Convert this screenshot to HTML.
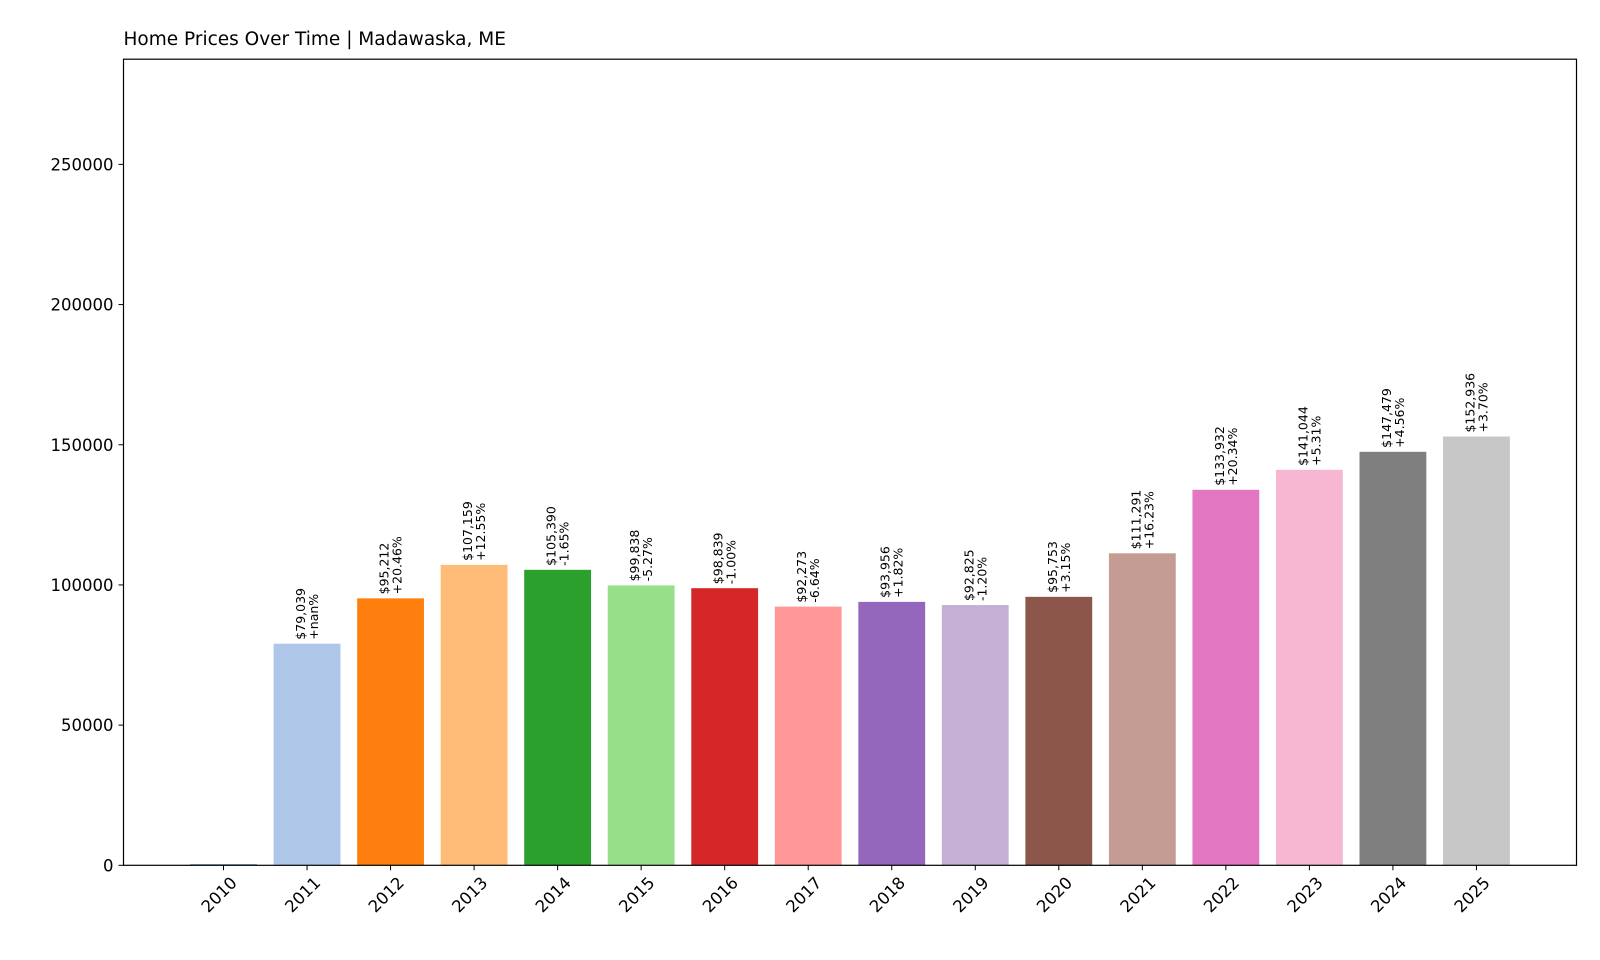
<!DOCTYPE html>
<html><head><meta charset="utf-8"><style>
body{margin:0;background:#fff;}
svg{display:block;font-family:"DejaVu Sans","Liberation Sans",sans-serif;}
</style></head><body>
<svg id="chart" width="1600" height="960"></svg>
<script>
const years=["2010","2011","2012","2013","2014","2015","2016","2017","2018","2019","2020","2021","2022","2023","2024","2025"];
const values=[0,79039,95212,107159,105390,99838,98839,92273,93956,92825,95753,111291,133932,141044,147479,152936];
const pctLabels=["","+nan%","+20.46%","+12.55%","-1.65%","-5.27%","-1.00%","-6.64%","+1.82%","-1.20%","+3.15%","+16.23%","+20.34%","+5.31%","+4.56%","+3.70%"];
const yTicks=[0,50000,100000,150000,200000,250000];
const colors=["#1f77b4","#aec7e8","#ff7f0e","#ffbb78","#2ca02c","#98df8a","#d62728","#ff9896","#9467bd","#c5b0d5","#8c564b","#c49c94","#e377c2","#f7b6d2","#7f7f7f","#c7c7c7"];

const NS="http://www.w3.org/2000/svg";
const svg=document.getElementById('chart');
const L=123.5,R=1576.5,T=59.2,B=865.3;
const yMax=Math.max(...values)*1.88;
const x0=223.5,step=83.53;
function xs(i){return x0+i*step;}
function ys(v){return B-v/yMax*(B-T);}
function mk(tag,attrs,parent){const e=document.createElementNS(NS,tag);for(const k in attrs)e.setAttribute(k,attrs[k]);(parent||svg).appendChild(e);return e;}

const title=mk('text',{x:L,y:45,'font-size':'18.5','fill':'#000'});


title.textContent="Home Prices Over Time | Madawaska, ME";

const bw=step*0.8;
values.forEach((v,i)=>{
  const cx=xs(i);
  const top=ys(v);
  const r=mk('rect',{x:cx-bw/2,y:Math.min(top,B-1),width:bw,height:Math.max(B-top,1),fill:colors[i]});
  
  
  if(v>0){
    const g=mk('text',{transform:`translate(${cx},${top-4}) rotate(-90)`,'font-size':'12.5','fill':'#000'});
    
    
    const t1=mk('tspan',{x:0,y:-2},g);
    t1.textContent='$'+v.toLocaleString('en-US');
    const t2=mk('tspan',{x:0,y:11},g);
    t2.textContent=pctLabels[i];
  }
  const tk=mk('line',{x1:cx,x2:cx,y1:B,y2:B+5,stroke:'#000','stroke-width':1});
  
  
  const tl=mk('text',{transform:`translate(${cx+4},${B+16}) rotate(-45)`,'font-size':'16.5','text-anchor':'end','dominant-baseline':'hanging','fill':'#000'});
  
  
  tl.setAttribute('transform',`translate(${cx+6},${B+10}) rotate(-45)`);
  tl.textContent=years[i];
});

yTicks.forEach(v=>{
  const y=ys(v);
  const tk=mk('line',{x1:L-5,x2:L,y1:y,y2:y,stroke:'#000','stroke-width':1});
  
  
  const tl=mk('text',{x:L-10,y:y+6,'font-size':'16.5','text-anchor':'end','fill':'#000'});
  
  
  tl.textContent=String(v);
});

const frame=mk('rect',{x:L,y:T,width:R-L,height:B-T,fill:'none',stroke:'#000','stroke-width':1.2});


</script>
</body></html>
